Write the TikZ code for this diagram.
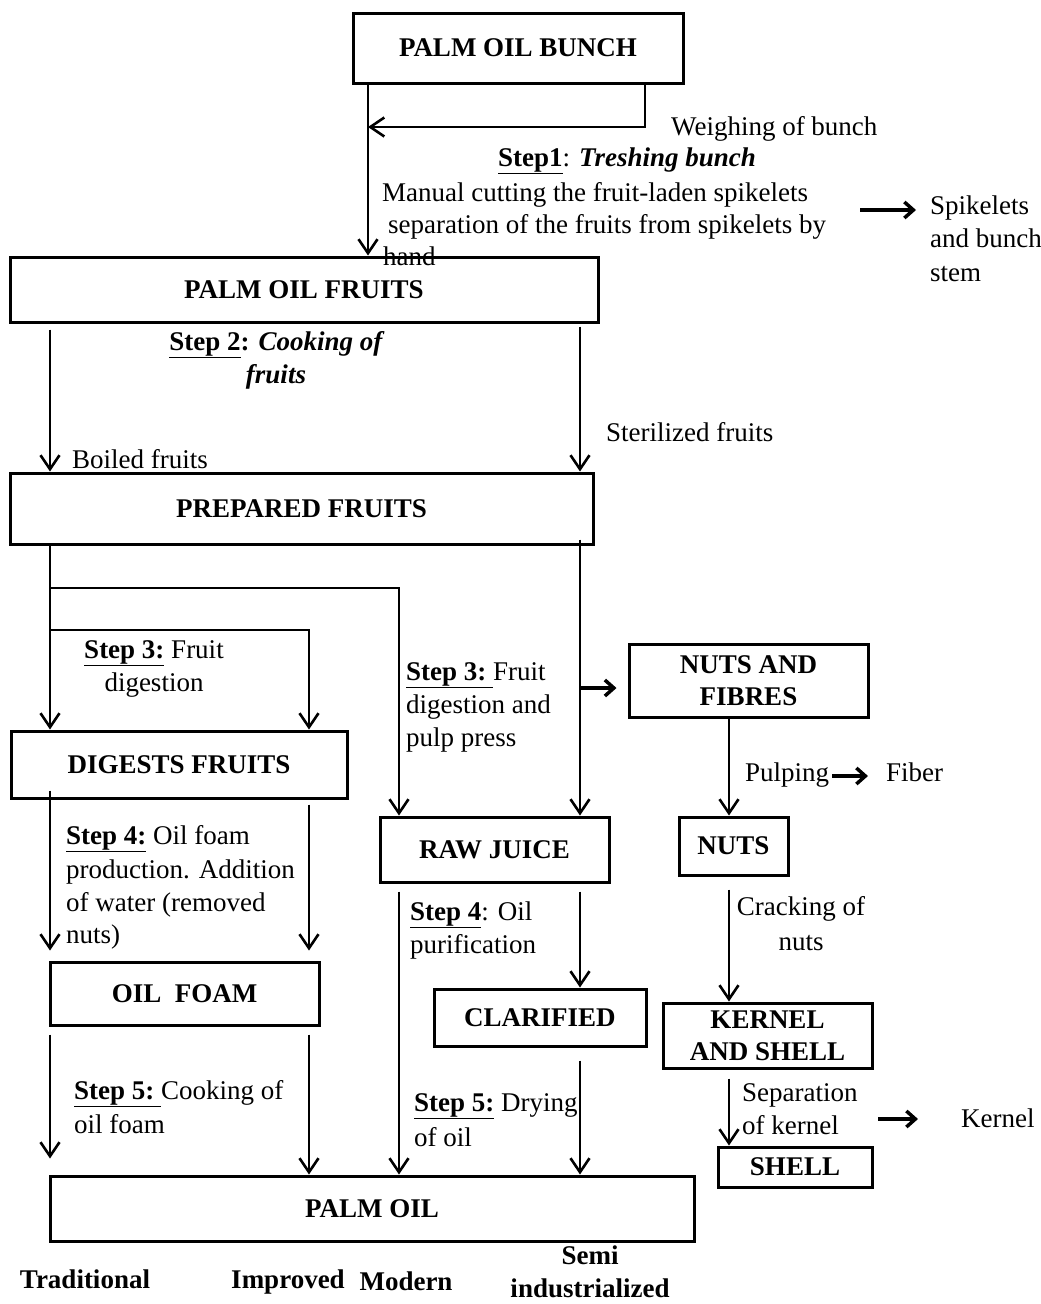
\documentclass[tikz,border=0pt]{standalone}
\usepackage{fontspec}
\setmainfont{Liberation Serif}
\usetikzlibrary{arrows.meta,calc}
\begin{document}
\begin{tikzpicture}[x=1pt,y=-1pt,
  every node/.style={font=\fontsize{27pt}{32.4pt}\selectfont, inner sep=0pt},
  box/.style={draw, line width=3pt, font=\fontsize{27pt}{32.4pt}\selectfont\bfseries, align=center, inner sep=0pt},
  arr/.style={line width=2.6pt, -{Straight Barb[length=14pt,width=19pt]}},
  sarr/.style={line width=3.5pt, -{Straight Barb[length=9pt,width=16pt]}},
  lbl/.style={anchor=base west},
  clbl/.style={anchor=base},
  blbl/.style={anchor=base, font=\fontsize{27pt}{32.4pt}\selectfont\bfseries},
]
\useasboundingbox (0,0) rectangle (1041,1304);

% column coordinates
\coordinate (cA) at (50,0);
\coordinate (cB) at (309,0);
\coordinate (cC) at (399,0);
\coordinate (cD) at (580,0);
\coordinate (cE) at (729,0);
\coordinate (cF) at (368,0);
\coordinate (cG) at (645,0);
\coordinate (wj) at (368,127);
\coordinate (j1) at (50,588);
\coordinate (j2) at (50,630);
\coordinate (j3) at (580,688);

% labels
\node[lbl] (weigh) at (671,135) {Weighing of bunch};
\node[lbl] (step1) at (498,166) {\textbf{\underline{Step1}}: \textbf{\textit{Treshing bunch}}};
\node[lbl] (man1) at (382,201) {Manual cutting the fruit-laden spikelets};
\node[lbl] (man2) at (388,233) {separation of the fruits from spikelets by};
\node[lbl] (man3) at (383,265) {hand};
\node[lbl] (spk1) at (930,214) {Spikelets};
\node[lbl] (spk2) at (930,247) {and bunch};
\node[lbl] (spk3) at (930,281) {stem};

\node[clbl] (s2a) at (277,350) {\textbf{\underline{Step 2}: \textit{Cooking of}}};
\node[clbl] (s2b) at (276,383) {\textbf{\textit{fruits}}};
\node[lbl] (steril) at (606,441) {Sterilized fruits};
\node[lbl] (boiled) at (72,468) {Boiled fruits};

\node[clbl] (s3a) at (154,658) {\textbf{\underline{Step 3:}} Fruit};
\node[clbl] (s3b) at (154,691) {digestion};
\node[lbl] (s3c) at (406,680) {\textbf{\underline{Step 3:\ }}Fruit};
\node[lbl] (s3d) at (406,713) {digestion and};
\node[lbl] (s3e) at (406,746) {pulp press};

\node[lbl] (pulping) at (745,781) {Pulping};
\node[lbl] (fiber) at (886,781) {Fiber};

\node[lbl] (s4a) at (66,844) {\textbf{\underline{Step 4:}} Oil foam};
\node[lbl] (s4b) at (66,878) {production. Addition};
\node[lbl] (s4c) at (66,911) {of water (removed};
\node[lbl] (s4d) at (66,943) {nuts)};
\node[lbl] (s4e) at (410,920) {\textbf{\underline{Step 4}}: Oil};
\node[lbl] (s4f) at (410,953) {purification};
\node[clbl] (crack1) at (801,915) {Cracking of};
\node[clbl] (crack2) at (801,950) {nuts};

\node[lbl] (s5a) at (74,1099) {\textbf{\underline{Step 5:\ }}Cooking of};
\node[lbl] (s5b) at (74,1133) {oil foam};
\node[lbl] (s5c) at (414,1111) {\textbf{\underline{Step 5:}} Drying};
\node[lbl] (s5d) at (414,1146) {of oil};
\node[lbl] (sep1) at (742,1101) {Separation};
\node[lbl] (sep2) at (742,1134) {of kernel};
\node[lbl] (kern) at (961,1127) {Kernel};

\node[blbl] (trad) at (85,1288) {Traditional};
\node[blbl] (impr) at (288,1288) {Improved};
\node[blbl] (modern) at (406,1290) {Modern};
\node[blbl] (semi1) at (590,1264) {Semi};
\node[blbl] (semi2) at (590,1297) {industrialized};

% boxes
\node[box, minimum width=330pt, minimum height=70pt] (bunch) at (518,48) {PALM OIL BUNCH};
\node[box, minimum width=588pt, minimum height=65pt] (fruits) at (304,289.5) {PALM OIL FRUITS};
\node[box, minimum width=583pt, minimum height=71pt] (prepared) at (301.5,508.5) {PREPARED FRUITS};
\node[box, minimum width=336pt, minimum height=67pt] (digests) at (179,764.5) {DIGESTS FRUITS};
\node[box, minimum width=229pt, minimum height=65pt] (rawjuice) at (494.5,849.5) {RAW JUICE};
\node[box, minimum width=239pt, minimum height=73pt] (nutsfibres) at (748.5,680.5) {NUTS AND\\FIBRES};
\node[box, minimum width=109pt, minimum height=58pt] (nuts) at (733.5,846) {NUTS};
\node[box, minimum width=269pt, minimum height=63pt] (oilfoam) at (184.5,993.5) {OIL\ \ FOAM};
\node[box, minimum width=212pt, minimum height=57pt] (clarified) at (540,1017.5) {CLARIFIED};
\node[box, minimum width=209pt, minimum height=65pt] (kernel) at (767.5,1035.5) {KERNEL\\AND SHELL};
\node[box, minimum width=154pt, minimum height=40pt] (shell) at (795,1167) {SHELL};
\node[box, minimum width=644pt, minimum height=65pt] (palmoil) at (372,1208.5) {PALM OIL};

% connectors
\draw[arr] (bunch.south -| cF) -- (fruits.north -| cF);
\draw[arr] (bunch.south -| cG) |- (wj);
\draw[arr] ([yshift=-6pt]fruits.south -| cA) -- (prepared.north -| cA);
\draw[arr] ([yshift=-3pt]fruits.south -| cD) -- (prepared.north -| cD);
\draw[arr] (prepared.south -| cA) -- (digests.north -| cA);
\draw[arr] (j1) -| (rawjuice.north -| cC);
\draw[arr] (j2) -| (digests.north -| cB);
\draw[arr] ([yshift=6pt]prepared.south -| cD) -- (rawjuice.north -| cD);
\draw[sarr] (j3) -- ([xshift=-11pt]nutsfibres.west |- j3);
\draw[arr] ([yshift=9pt]digests.south -| cA) -- ([yshift=10pt]oilfoam.north -| cA);
\draw[arr] ([yshift=-5pt]digests.south -| cB) -- ([yshift=10pt]oilfoam.north -| cB);
\draw[arr] ([yshift=-8pt]oilfoam.south -| cA) -- ([yshift=16pt]palmoil.north -| cA);
\draw[arr] ([yshift=-8pt]oilfoam.south -| cB) -- (palmoil.north -| cB);
\draw[arr] ([yshift=-8pt]rawjuice.south -| cC) -- (palmoil.north -| cC);
\draw[arr] ([yshift=-8pt]rawjuice.south -| cD) -- (clarified.north -| cD);
\draw[arr] ([yshift=-13pt]clarified.south -| cD) -- (palmoil.north -| cD);
\draw[arr] (nutsfibres.south -| cE) -- (nuts.north -| cE);
\draw[arr] ([yshift=-13pt]nuts.south -| cE) -- (kernel.north -| cE);
\draw[arr] ([yshift=-9pt]kernel.south -| cE) -- (shell.north -| cE);

% short arrows
\draw[sarr] ([xshift=-70pt,yshift=4pt]spk1.base west) -- ([xshift=-14pt,yshift=4pt]spk1.base west);
\draw[sarr] ([xshift=3pt,yshift=5pt]pulping.base east) -- ([xshift=-18pt,yshift=5pt]fiber.base west);
\draw[sarr] ([xshift=-83pt,yshift=8pt]kern.base west) -- ([xshift=-43pt,yshift=8pt]kern.base west);
\end{tikzpicture}
\end{document}
